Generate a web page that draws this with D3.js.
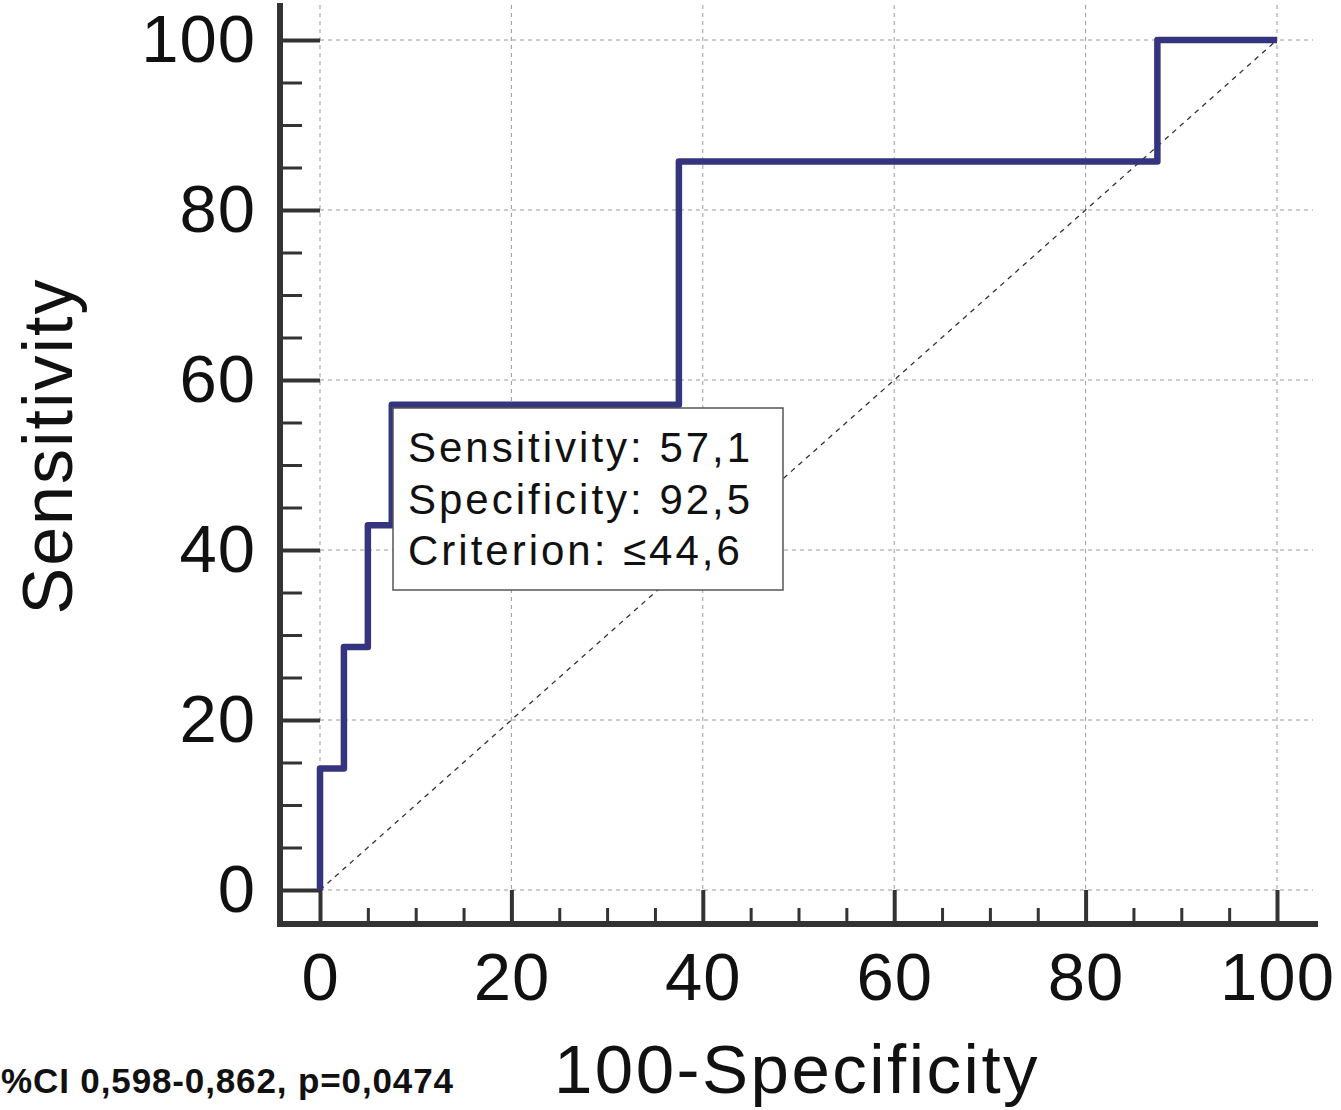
<!DOCTYPE html>
<html>
<head>
<meta charset="utf-8">
<script src="https://cdn.jsdelivr.net/npm/d3@7"></script>
<style>
  html, body { margin: 0; padding: 0; background: #fff; }
  svg { display: block; font-family: "Liberation Sans", Arial, sans-serif; }
</style>
</head>
<body>
<svg id="chart" width="1341" height="1110"></svg>
<script>
// ROC curve steps (100-Specificity, Sensitivity)
const fpr = [0, 0, 2.5, 2.5, 5, 5, 7.5, 7.5, 37.5, 37.5, 87.5, 87.5, 100];
const tpr = [0, 14.3, 14.3, 28.6, 28.6, 42.9, 42.9, 57.1, 57.1, 85.7, 85.7, 100, 100];
const majorTicks = [0, 20, 40, 60, 80, 100];
const minorTicks = d3.range(0, 101, 5).filter(d => d % 20 !== 0);
const boxLines = ["Sensitivity: 57,1", "Specificity: 92,5", "Criterion: \u226444,6"];
const footText = "%CI 0,598-0,862, p=0,0474";

const svg = d3.select("#chart");

const x = d3.scaleLinear().domain([0, 100]).range([320, 1277]);
const y = d3.scaleLinear().domain([0, 100]).range([890, 40]);

const axisX = 280;   // y axis line position
const axisY = 924;   // x axis line position
const axisColor = "#333";

// grid
const grid = svg.append("g").attr("stroke", "#9a9a9a").attr("stroke-width", 1)
  .attr("stroke-dasharray", "4,4");
grid.selectAll(".gx")
  .data(majorTicks)
  .join("line")
    .attr("x1", d => x(d)).attr("x2", d => x(d))
    .attr("y1", 5).attr("y2", y(0));
grid.selectAll(".gy")
  .data(majorTicks)
  .join("line")
    .attr("x1", x(0)).attr("x2", 1313)
    .attr("y1", d => y(d)).attr("y2", d => y(d));

// diagonal reference
svg.append("line")
  .attr("x1", x(0)).attr("y1", y(0))
  .attr("x2", x(100)).attr("y2", y(100))
  .attr("stroke", "#333")
  .attr("stroke-width", 1.3)
  .attr("stroke-dasharray", "5,5");

// y axis
const yMajor = svg.append("g")
  .attr("transform", `translate(${axisX},0)`)
  .call(d3.axisLeft(y).tickValues(majorTicks).tickSizeInner(-(x(0) - axisX)).tickSizeOuter(0).tickPadding(24));
const yMinor = svg.append("g")
  .attr("transform", `translate(${axisX},0)`)
  .call(d3.axisLeft(y).tickValues(minorTicks).tickSizeInner(-22).tickSizeOuter(0).tickFormat(""));

// x axis
const xMajor = svg.append("g")
  .attr("transform", `translate(0,${axisY})`)
  .call(d3.axisBottom(x).tickValues(majorTicks).tickSizeInner(-(axisY - y(0))).tickSizeOuter(0).tickPadding(28));
const xMinor = svg.append("g")
  .attr("transform", `translate(0,${axisY})`)
  .call(d3.axisBottom(x).tickValues(minorTicks).tickSizeInner(-16).tickSizeOuter(0).tickFormat(""));

[yMajor, yMinor, xMajor, xMinor].forEach(g => {
  g.select(".domain").remove();
  g.selectAll("line").attr("stroke", axisColor);
  g.selectAll("text")
    .attr("fill", "#111")
    .style("font-size", "67px")
    .style("letter-spacing", "1px")
    .style("font-family", "'Liberation Sans', Arial, sans-serif");
});
yMajor.selectAll("line").attr("stroke-width", 4);
xMajor.selectAll("line").attr("stroke-width", 4);
yMinor.selectAll("line").attr("stroke-width", 3);
xMinor.selectAll("line").attr("stroke-width", 3);

// axis lines
svg.append("line")
  .attr("x1", axisX).attr("x2", axisX)
  .attr("y1", 3).attr("y2", axisY + 3)
  .attr("stroke", axisColor).attr("stroke-width", 6);
svg.append("line")
  .attr("x1", axisX - 3).attr("x2", 1318)
  .attr("y1", axisY).attr("y2", axisY)
  .attr("stroke", axisColor).attr("stroke-width", 6);

// ROC curve
const rocData = fpr.map((d, i) => ({ fp: d, tp: tpr[i] }));
svg.append("path")
  .datum(rocData)
  .attr("fill", "none")
  .attr("stroke", "#35347f")
  .attr("stroke-width", 6.5)
  .attr("stroke-linejoin", "round")
  .attr("d", d3.line().x(d => x(d.fp)).y(d => y(d.tp)));

// criterion box
const box = svg.append("g");
box.append("rect")
  .attr("x", 393).attr("y", 408)
  .attr("width", 390).attr("height", 182)
  .attr("fill", "#fff")
  .attr("stroke", "#555")
  .attr("stroke-width", 1.5);
box.selectAll("text")
  .data(boxLines)
  .join("text")
    .attr("x", 408)
    .attr("y", (d, i) => 462 + i * 51.5)
    .attr("fill", "#111")
    .style("font-size", "42px")
    .style("letter-spacing", "3px")
    .text(d => d);

// axis titles
svg.append("text")
  .attr("x", 797).attr("y", 1093)
  .attr("text-anchor", "middle")
  .attr("fill", "#111")
  .style("font-size", "69px")
  .style("letter-spacing", "2.5px")
  .text("100-Specificity");

svg.append("text")
  .attr("transform", "translate(72,446) rotate(-90)")
  .attr("text-anchor", "middle")
  .attr("fill", "#111")
  .style("font-size", "70px")
  .style("letter-spacing", "2px")
  .text("Sensitivity");

// footnote
svg.append("text")
  .attr("x", 1).attr("y", 1093)
  .attr("fill", "#111")
  .attr("textLength", 452)
  .attr("lengthAdjust", "spacing")
  .style("font-size", "35px")
  .style("font-weight", "bold")
  .text(footText);
</script>
</body>
</html>
